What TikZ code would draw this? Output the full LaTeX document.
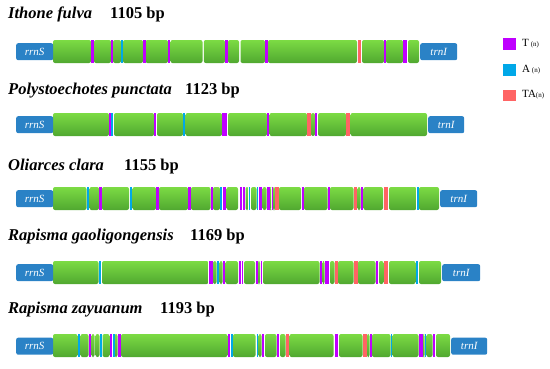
\documentclass[tikz,border=0pt]{standalone}
\usepackage{fontspec}
\setmainfont{Liberation Serif}
\definecolor{grtop}{HTML}{7CDB44}
\definecolor{grbot}{HTML}{50A830}
\definecolor{genebl}{HTML}{2A82C6}
\definecolor{cT}{HTML}{BF00FF}
\definecolor{cA}{HTML}{00A8E8}
\definecolor{cR}{HTML}{FF6464}
\tikzset{
  seg/.style={rounded corners=2pt, top color=grtop, bottom color=grbot, draw=none},
  gene/.style={fill=genebl, rounded corners=2pt, text=white, font=\itshape\fontsize{11}{13}\selectfont,
    inner sep=0pt, minimum height=17pt, anchor=north west},
  sp/.style={anchor=base west, font=\bfseries\itshape\fontsize{16.5}{19}\selectfont, inner sep=0pt},
  bp/.style={anchor=base west, font=\bfseries\fontsize{16.5}{19}\selectfont, inner sep=0pt},
  legsq/.style={inner sep=0pt, minimum width=13pt, minimum height=11.5pt, anchor=north west},
  legtx/.style={anchor=west, font=\fontsize{11}{13}\selectfont, inner sep=0pt}
}
\newcommand\drawrow[3]{%
  \foreach \a/\b in {#2}{\shade[seg] (\a,#1) rectangle (\b,#1+23);}%
  \foreach \a/\b/\c in {#3}{\fill[\c] (\a,#1) rectangle (\b,#1+23);}%
}
\newcommand\sm[1]{{\fontsize{7}{8}\selectfont#1}}
\begin{document}
\begin{tikzpicture}[x=1pt,y=-1pt]
\useasboundingbox (0,0) rectangle (550,368);
% ---------- titles
\node[sp] (t1) at (8,18.5) {Ithone fulva};
\node[bp] (b1) at (110,18.5) {1105 bp};
\node[sp] (t2) at (8,94.3) {Polystoechotes punctata};
\node[bp] (b2) at (185,94.3) {1123 bp};
\node[sp] (t3) at (8,170.7) {Oliarces clara};
\node[bp] (b3) at (124,170.7) {1155 bp};
\node[sp] (t4) at (8,240.7) {Rapisma gaoligongensis};
\node[bp] (b4) at (190,240.7) {1169 bp};
\node[sp] (t5) at (8,313.3) {Rapisma zayuanum};
\node[bp] (b5) at (160,313.3) {1193 bp};
% ---------- row 1
\drawrow{40}{53/91,94/111,113/121,123/143,145.5/168,170.5/202.5,203.8/225,228/239,240.5/265,268/357,362/384,386/403,408/419}
{91/93.5/cT,111/112.5/cT,121/122.5/cA,143/145.5/cT,168/170/cT,225/227.5/cT,265/267.5/cT,357.5/361/cR,384/385.5/cT,403/407/cT}
\node[gene, minimum width=37pt] (s1) at (16,43) {rrnS};
\node[gene, minimum width=37pt] (e1) at (420,43) {trnI};
% ---------- row 2
\drawrow{113}{53/109,114/154,157/183,185.5/222,228/267,269.5/307,311/315,318/346,350.5/427}
{109/111/cT,111/113/cA,154/156/cT,183/185/cA,222/227/cT,267/268.5/cT,307/310.5/cR,315/317/cT,346/349.5/cR}
\node[gene, minimum width=37pt] (s2) at (16,116) {rrnS};
\node[gene, minimum width=36pt] (e2) at (428,116) {trnI};
% ---------- row 3
\drawrow{187}{53/86.5,89.5/99,102/129,132.5/156,159/188,191/210.5,213/220,226.5/238,245.5/248.5,251/256.5,262.5/266.5,270/271,273/275,279/301,304/327.5,330/353.5,357.5/360.5,363.5/383,389/416.5,419/439}
{87/88.5/cA,99/101.5/cT,129.5/131.5/cA,156/158.5/cT,188/190.5/cT,211/212.5/cT,220/221.5/cA,222.5/225.5/cT,239.5/241.5/cT,243/245/cT,249/250/cA,257/258/cA,259/262/cT,267/269.5/cT,271.5/272.5/cT,275/278.5/cR,302/303.5/cT,328/329.5/cT,354/357/cR,361/363/cT,384/388/cR,417/418.5/cA}
\node[gene, minimum width=37pt] (s3) at (16,190) {rrnS};
\node[gene, minimum width=37pt] (e3) at (440,190) {trnI};
% ---------- row 4
\drawrow{261}{53/98.5,102/208.5,213/216.5,219.5/222.5,225.5/238,244/255,258/260,263/319.5,322.5/324.5,330/334.5,338/353.5,358/375.5,379/383.5,389/415.5,419/441}
{99/101/cA,209/212.5/cT,217/219/cA,223/225/cT,239/240.5/cT,241.5/243/cT,256/257.5/cT,260.5/262/cT,320/322/cT,325/329/cT,335/337.5/cR,354/357.5/cR,376/378/cT,384/388/cR,416/418/cA}
\node[gene, minimum width=37pt] (s4) at (16,264) {rrnS};
\node[gene, minimum width=38pt] (e4) at (442,264) {trnI};
% ---------- row 5
\drawrow{334}{53/77.5,80.5/88.5,91.5/94.5,95.5/99.5,102.5/109.5,114.5/117.5,121/227.5,233/255.5,258.5/261.5,265/276.5,280/285.5,289.5/333.5,339/362.5,367/369.5,372/390.5,392.5/418.5,423/424.5,426.5/432.5,436/450}
{78/80/cA,89/91/cT,100/102/cA,110/112/cT,113/114.5/cA,118/120.5/cT,228/230/cT,230.5/232.5/cA,256.5/257.5/cA,262/264/cT,277/279/cT,286/289/cR,335/338/cT,363/366.5/cR,370/371.5/cT,391/392/cA,419/420.5/cT,421/422.5/cT,425/426/cA,433/434.5/cT}
\node[gene, minimum width=37pt] (s5) at (16,337.5) {rrnS};
\node[gene, minimum width=36pt] (e5) at (451,337.5) {trnI};
% ---------- legend
\node[legsq, fill=cT] (lT) at (503,38) {};
\node[legsq, fill=cA] (lA) at (503,64) {};
\node[legsq, fill=cR] (lR) at (503,89.5) {};
\node[legtx] (xT) at (522,43.5) {T\,\sm{(n)}};
\node[legtx] (xA) at (522,69.5) {A\,\sm{(n)}};
\node[legtx] (xR) at (522,95) {TA\sm{(n)}};
\end{tikzpicture}
\end{document}
